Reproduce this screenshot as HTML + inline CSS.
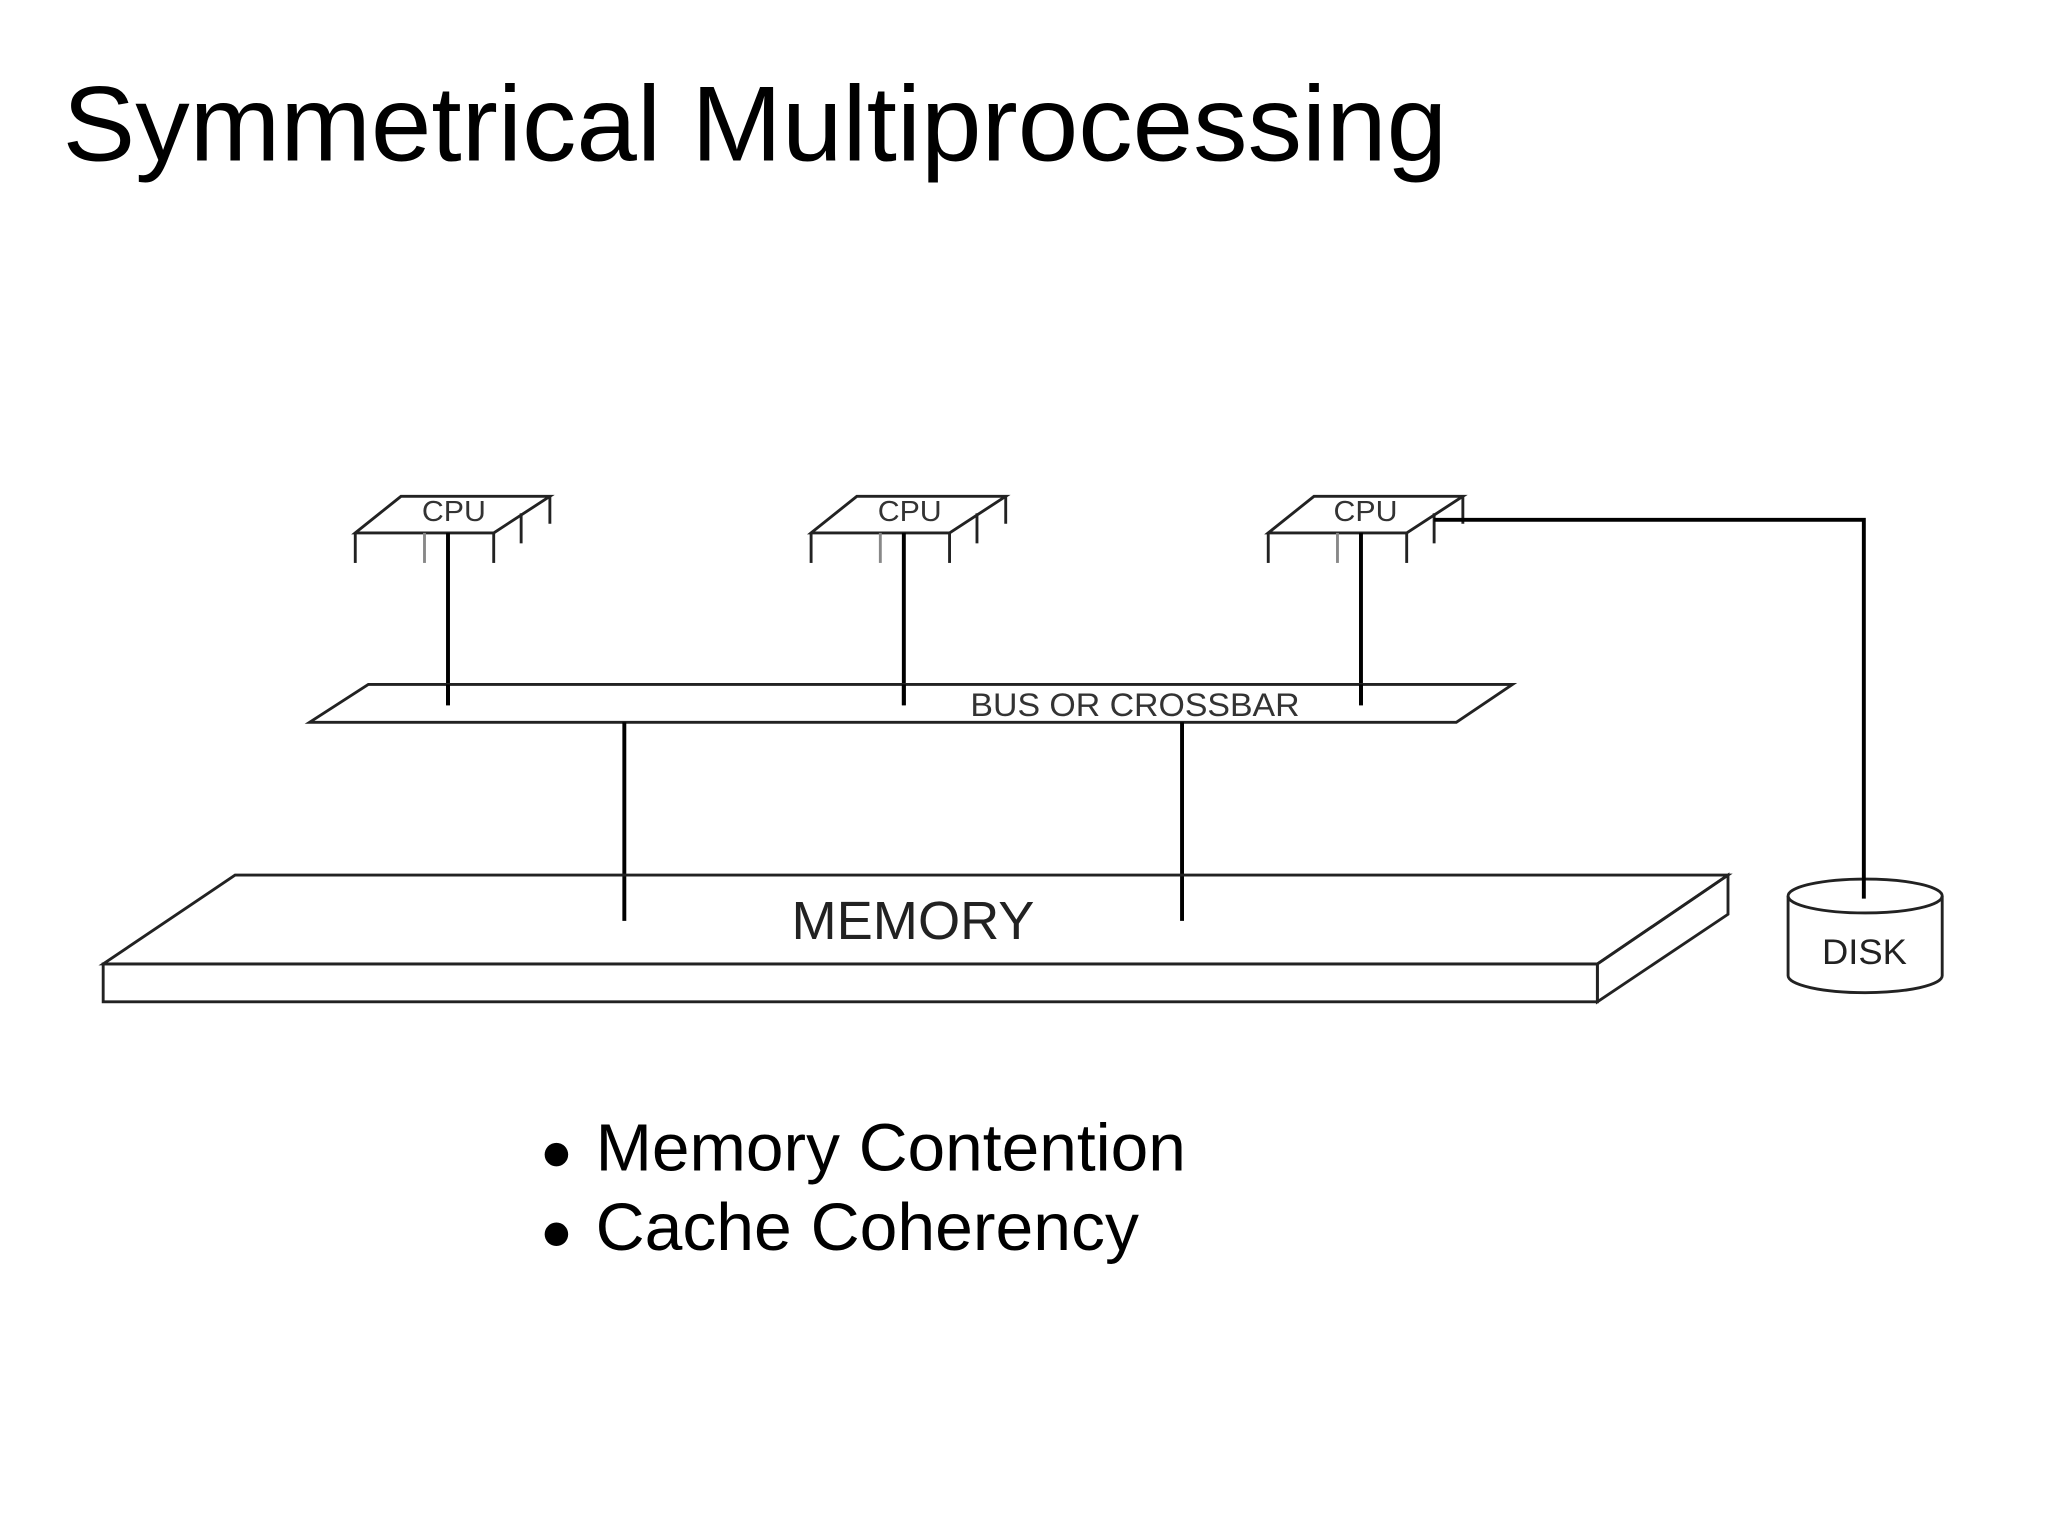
<!DOCTYPE html>
<html><head><meta charset="utf-8"><style>html,body{margin:0;padding:0;background:#fff}svg{display:block}</style></head>
<body>
<svg width="2048" height="1536" viewBox="0 0 1568 1176" xmlns="http://www.w3.org/2000/svg" font-family="Liberation Sans, sans-serif">
<rect width="1568" height="1176" fill="#fff"/>
<text x="48" y="123" font-size="82" fill="#000" textLength="1060" lengthAdjust="spacingAndGlyphs">Symmetrical Multiprocessing</text>
<g fill="none" stroke="#222" stroke-width="2.2">
  <g id="cpu">
    <polygon points="272,408 307,380 421,380 378,408" fill="#fff"/>
    <line x1="272" y1="408" x2="272" y2="431"/>
    <line x1="325" y1="408" x2="325" y2="431" stroke="#888"/>
    <line x1="378" y1="408" x2="378" y2="431"/>
    <line x1="399" y1="393" x2="399" y2="416"/>
    <line x1="421" y1="380" x2="421" y2="401"/>
    <line x1="343" y1="408" x2="343" y2="540" stroke="#000" stroke-width="3"/>
  </g>
  <use href="#cpu" x="349"/>
  <use href="#cpu" x="699"/>
  <polygon points="237,553 282,524 1158,524 1115,553"/>
  <line x1="343" y1="524" x2="343" y2="540" stroke="#000" stroke-width="3"/>
  <line x1="692" y1="524" x2="692" y2="540" stroke="#000" stroke-width="3"/>
  <line x1="1042" y1="524" x2="1042" y2="540" stroke="#000" stroke-width="3"/>
  <line x1="478" y1="553" x2="478" y2="705" stroke="#000" stroke-width="3"/>
  <line x1="905" y1="553" x2="905" y2="705" stroke="#000" stroke-width="3"/>
  <polygon points="79,738 180,670 1323,670 1223,738"/>
  <rect x="79" y="738" width="1144" height="29"/>
  <polygon points="1223,738 1323,670 1323,700 1223,767"/>
  <path d="M1369,686 L1369,747 A59,13 0 0 0 1487,747 L1487,686"/>
  <ellipse cx="1428" cy="686" rx="59" ry="13"/>
  <polyline points="1098,398 1427,398 1427,688" stroke="#000" stroke-width="3"/>
</g>
<g font-size="22" fill="#333">
  <text x="323" y="399" textLength="49" lengthAdjust="spacingAndGlyphs">CPU</text>
  <text x="672" y="399" textLength="49" lengthAdjust="spacingAndGlyphs">CPU</text>
  <text x="1021" y="399" textLength="49" lengthAdjust="spacingAndGlyphs">CPU</text>
</g>
<text x="743" y="548" font-size="25" fill="#333" textLength="252" lengthAdjust="spacingAndGlyphs">BUS OR CROSSBAR</text>
<text x="606" y="719" font-size="41" fill="#222" textLength="186" lengthAdjust="spacingAndGlyphs">MEMORY</text>
<text x="1395" y="738" font-size="27" fill="#222" textLength="65" lengthAdjust="spacingAndGlyphs">DISK</text>
<circle cx="426" cy="884" r="9" fill="#000"/>
<circle cx="426" cy="945" r="9" fill="#000"/>
<text x="456" y="896" font-size="51" fill="#000" textLength="452" lengthAdjust="spacingAndGlyphs">Memory Contention</text>
<text x="456" y="957" font-size="51" fill="#000" textLength="416" lengthAdjust="spacingAndGlyphs">Cache Coherency</text>
</svg>
</body></html>
